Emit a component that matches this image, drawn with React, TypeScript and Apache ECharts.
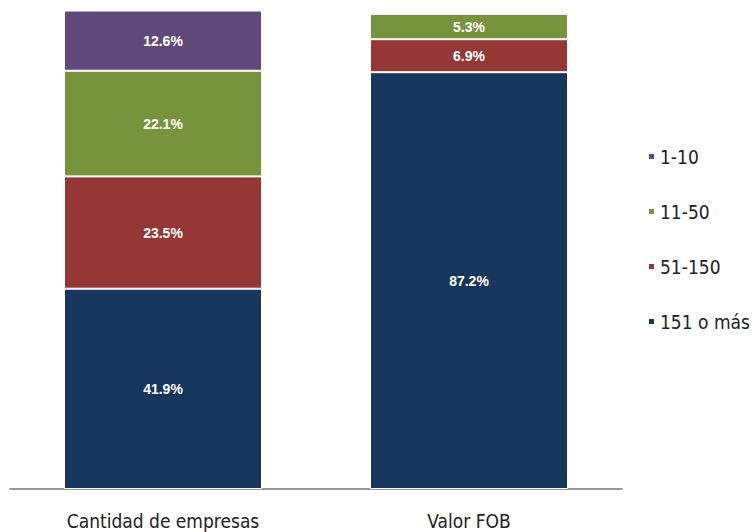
import React, { useEffect, useRef } from "react";
import * as echarts from "echarts";

const categories = ["Cantidad de empresas", "Valor FOB"];
const seriesNames = ["151 o más", "51-150", "11-50", "1-10"];
const values151 = [41.9, 87.2];
const values51 = [23.5, 6.9];
const values11 = [22.1, 5.3];
const values1 = [12.6, 0];
const colors = ["#17375E", "#953735", "#77933C", "#604A7B"];
const legendOrder = ["1-10", "11-50", "51-150", "151 o más"];

export default function App() {
  const ref = useRef<HTMLDivElement>(null);
  useEffect(() => {
    if (!ref.current) return;
    const chart = echarts.init(ref.current, null, { renderer: "svg" });
    const data = [values151, values51, values11, values1];
    chart.setOption({
      animation: false,
      grid: { left: 10, right: 133, top: 11, bottom: 43 },
      legend: {
        orient: "vertical",
        left: 647,
        top: 146,
        padding: 0,
        data: legendOrder,
        icon: "rect",
        itemWidth: 7,
        itemHeight: 7,
        itemGap: 34,
        textStyle: { fontSize: 19, color: "#222", fontFamily: "DejaVu Sans Condensed", lineHeight: 21, padding: [0, 0, 0, 0] },
      },
      xAxis: {
        type: "category",
        data: categories,
        axisLine: { lineStyle: { color: "#999", width: 2 } },
        axisTick: { show: false },
        axisLabel: { fontSize: 19, lineHeight: 19, color: "#222", margin: 22, fontFamily: "DejaVu Sans Condensed" },
      },
      yAxis: { type: "value", min: 0, max: 100, show: false, splitLine: { show: false } },
      series: seriesNames.map((name, i) => ({
        name,
        type: "bar",
        stack: "total",
        barWidth: 198,
        data: data[i].map((v) => (v === 0 ? null : v)),
        itemStyle: { color: colors[i], borderColor: "#fff", borderWidth: 1 },
        label: {
          show: true,
          position: "inside",
          color: "#fff",
          fontWeight: "bold",
          fontSize: 14,
          fontFamily: "Liberation Sans",
          formatter: (p: any) => p.value.toFixed(1) + "%",
        },
      })),
    });
    return () => chart.dispose();
  }, []);
  return <div ref={ref} style={{ position: "absolute", left: 0, top: 0, width: 755, height: 532 }} />;
}
